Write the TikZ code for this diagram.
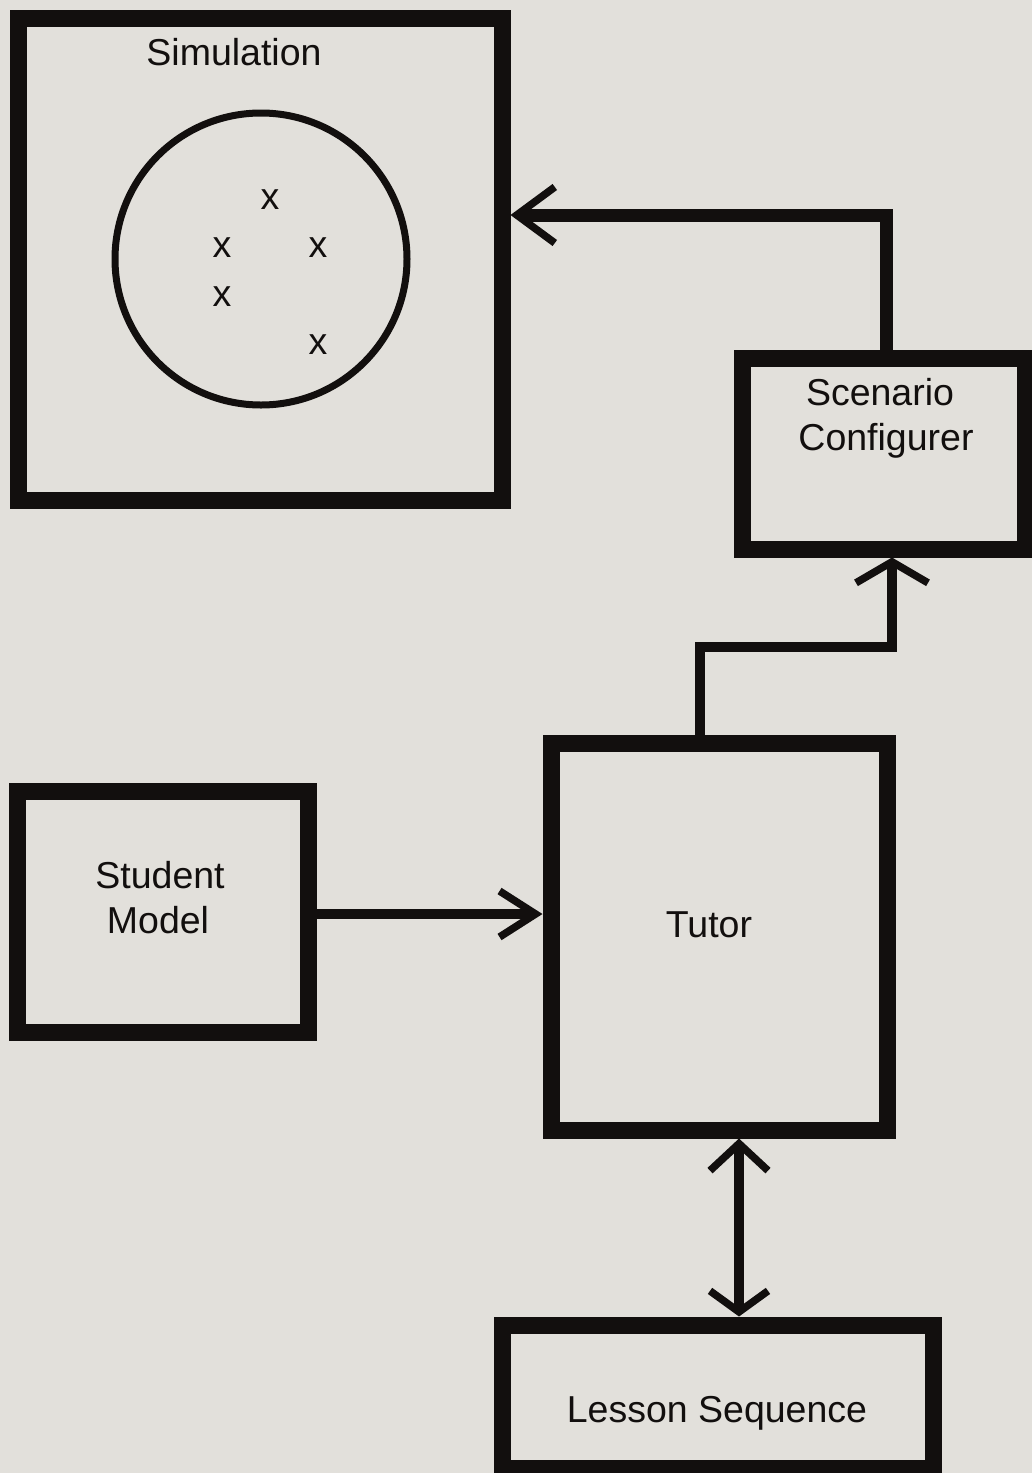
\documentclass[tikz,border=0pt]{standalone}
\usepackage{fontspec}
\setmainfont{Liberation Sans}
\usetikzlibrary{arrows.meta}
\definecolor{paper}{RGB}{226,224,219}
\definecolor{ink}{RGB}{18,15,14}
\begin{document}
\begin{tikzpicture}[x=1pt,y=-1pt,
  box/.style={draw=ink, line width=17pt, inner sep=0pt, rectangle},
  lbl/.style={text=ink, font=\fontsize{37.5}{45}\selectfont, inner sep=0pt},
  conn/.style={draw=ink, line width=11pt}
]
\useasboundingbox[fill=paper] (0,0) rectangle (1032,1473);

% boxes
\node[box, minimum width=484pt, minimum height=482pt] (sim) at (260,259) {};
\node[box, minimum width=283pt, minimum height=191pt] (scen) at (883.5,453.5) {};
\node[box, minimum width=336pt, minimum height=387pt] (tutor) at (719,936.5) {};
\node[box, minimum width=291pt, minimum height=241pt] (student) at (162.5,911.5) {};
\node[box, minimum width=431pt, minimum height=143pt] (lesson) at (717.5,1396.5) {};

% circle and marks
\node[draw=ink, line width=7pt, circle, minimum size=292pt, inner sep=0pt] (world) at (261,259) {};
\node[lbl] (x1) at (270,200) {x};
\node[lbl] (x2) at (222,248) {x};
\node[lbl] (x3) at (318,248) {x};
\node[lbl] (x4) at (222,297) {x};
\node[lbl] (x5) at (318,345) {x};

% labels
\node[lbl, anchor=base] (tsim) at (234,65) {Simulation};
\node[lbl, anchor=base] (tscen1) at (880,405) {Scenario};
\node[lbl, anchor=base] (tscen2) at (886,450) {Configurer};
\node[lbl, anchor=base] (ttutor) at (709,937) {Tutor};
\node[lbl, anchor=base] (tstu1) at (160,888) {Student};
\node[lbl, anchor=base] (tstu2) at (158,933) {Model};
\node[lbl, anchor=base] (tles) at (717,1422) {Lesson Sequence};

% connectors
\coordinate (k1) at (886,215);
\draw[conn, line width=13pt, -{Straight Barb[length=38pt, width=56pt, line width=7.5pt]}]
  (scen.north -| k1) -- (k1) -- (sim.east |- k1);

\coordinate (k2) at (700,647);
\coordinate (k3) at (892,647);
\draw[conn, line width=10.5pt, -{Straight Barb[length=21pt, width=72pt, line width=7.5pt]}]
  (tutor.north -| k2) -- (k2) -- (k3) -- (scen.south -| k3);

\coordinate (k4) at (0,914);
\draw[conn, line width=10pt, -{Straight Barb[length=36pt, width=46pt, line width=7.5pt]}]
  (student.east |- k4) -- (tutor.west |- k4);

\coordinate (k5) at (739,0);
\draw[conn, line width=10pt,
  {Straight Barb[length=27pt, width=58pt, line width=7.5pt]}-{Straight Barb[length=21pt, width=58pt, line width=7.5pt]}]
  (tutor.south -| k5) -- (lesson.north -| k5);
\end{tikzpicture}
\end{document}
